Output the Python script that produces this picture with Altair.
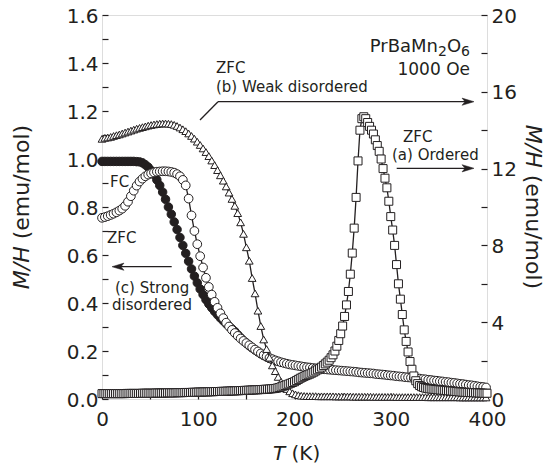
import altair as alt
import pandas as pd

# ---------------- data ----------------
# (a) Ordered, ZFC (squares, right axis)
T_sq = list(range(0, 401, 2))
sq = [0.28, 0.28, 0.28, 0.28, 0.28, 0.28, 0.28, 0.28, 0.28, 0.28, 0.28,
      0.28, 0.28, 0.29, 0.29, 0.29, 0.29, 0.29, 0.29, 0.29, 0.29, 0.30, 0.30, 0.30, 0.30, 0.30, 0.30, 0.30, 0.31, 0.31, 0.31,
      0.31, 0.31, 0.31, 0.32, 0.32, 0.32, 0.32, 0.32, 0.33, 0.33, 0.33, 0.33, 0.34, 0.34, 0.34, 0.34, 0.35, 0.35, 0.35, 0.36,
      0.36, 0.36, 0.37, 0.37, 0.37, 0.38, 0.38, 0.38, 0.39, 0.39, 0.39, 0.40, 0.40, 0.40, 0.41, 0.41, 0.42, 0.42, 0.42, 0.43,
      0.43, 0.44, 0.44, 0.45, 0.45, 0.46, 0.46, 0.47, 0.47, 0.48, 0.48, 0.49, 0.49, 0.50, 0.51, 0.51, 0.52, 0.53, 0.54, 0.55,
      0.57, 0.60, 0.63, 0.67, 0.70, 0.74, 0.78, 0.82, 0.86, 0.90, 0.96, 1.02, 1.08, 1.13, 1.18, 1.22, 1.26, 1.30, 1.35, 1.40,
      1.46, 1.52, 1.58, 1.66, 1.74, 1.83, 1.92, 2.02, 2.15, 2.30, 2.50, 2.75, 3.05, 3.40, 3.80, 4.30, 4.90, 5.60, 6.50, 7.60,
      8.90, 10.5, 12.4, 14.0, 14.6, 14.7, 14.6, 14.4, 14.2, 14.0, 13.8, 13.5, 13.2, 12.9, 12.5, 12.0, 11.5, 11.0, 10.3, 9.5,
      8.8, 8.0, 7.0, 6.0, 5.2, 4.4, 3.6, 3.0, 2.45, 1.95, 1.55, 1.20, 0.95, 0.80, 0.70, 0.64, 0.60, 0.57, 0.55, 0.53,
      0.52, 0.51, 0.50, 0.49, 0.48, 0.47, 0.46, 0.45, 0.44, 0.43, 0.42, 0.41, 0.40, 0.39, 0.38, 0.37, 0.36, 0.35, 0.35, 0.34,
      0.34, 0.33, 0.33, 0.32, 0.32, 0.31, 0.31, 0.30, 0.30, 0.30]

# (b) Weak disordered, ZFC (triangles, right axis)
T_tri = list(range(0, 400, 3))
tri = [13.55, 13.6, 13.62, 13.65, 13.7, 13.74, 13.78, 13.83, 13.88, 13.93,
       13.98, 14.03, 14.08, 14.12, 14.16, 14.2, 14.24, 14.27, 14.3, 14.32,
       14.34, 14.35, 14.35, 14.34, 14.32, 14.28, 14.22, 14.14, 14.05, 13.95,
       13.83, 13.7, 13.56, 13.4, 13.23, 13.05, 12.86, 12.65, 12.42, 12.18,
       11.92, 11.65, 11.37, 11.07, 10.75, 10.42, 10.06, 9.68, 9.2, 8.6,
       7.9, 7.2, 6.3, 5.5, 4.6, 3.8, 3.1, 2.6, 2.15, 1.75,
       1.45, 1.15, 0.9, 0.7, 0.52, 0.4, 0.3, 0.24, 0.2, 0.17,
       0.16, 0.15, 0.15, 0.15, 0.15, 0.14, 0.14, 0.14, 0.14, 0.14,
       0.14, 0.13, 0.13, 0.13, 0.13, 0.13, 0.13, 0.12, 0.12, 0.12,
       0.12, 0.12, 0.12, 0.12, 0.11, 0.11, 0.11, 0.11, 0.11, 0.11,
       0.11, 0.11, 0.1, 0.1, 0.1, 0.1, 0.1, 0.1, 0.1, 0.1,
       0.1, 0.1, 0.1, 0.09, 0.09, 0.09, 0.09, 0.09, 0.09, 0.09,
       0.09, 0.09, 0.09, 0.09, 0.08, 0.08, 0.08, 0.08, 0.08, 0.08,
       0.08, 0.08, 0.08, 0.08]

# (c) Strong disordered, ZFC (open circles, left axis)
T_zfc = list(range(0, 400, 3))
zfc = [0.755, 0.758, 0.762, 0.767, 0.772, 0.778, 0.785, 0.793, 0.805, 0.822,
       0.845, 0.868, 0.889, 0.906, 0.918, 0.928, 0.935, 0.94, 0.944, 0.947,
       0.948, 0.949, 0.949, 0.948, 0.946, 0.943, 0.937, 0.928, 0.913, 0.89,
       0.835, 0.765, 0.70, 0.645, 0.595, 0.548, 0.505, 0.467, 0.435, 0.405,
       0.38, 0.357, 0.337, 0.318, 0.302, 0.288, 0.275, 0.263, 0.252, 0.242,
       0.233, 0.224, 0.215, 0.206, 0.198, 0.19, 0.183, 0.177, 0.171, 0.166,
       0.161, 0.157, 0.153, 0.15, 0.147, 0.144, 0.142, 0.14, 0.138, 0.136,
       0.134, 0.132, 0.131, 0.129, 0.128, 0.127, 0.125, 0.124, 0.123, 0.122,
       0.121, 0.12, 0.119, 0.118, 0.117, 0.116, 0.115, 0.114, 0.113, 0.111,
       0.11, 0.109, 0.108, 0.107, 0.106, 0.104, 0.103, 0.102, 0.101, 0.099,
       0.098, 0.097, 0.095, 0.094, 0.093, 0.091, 0.09, 0.089, 0.087, 0.086,
       0.085, 0.083, 0.082, 0.08, 0.079, 0.077, 0.076, 0.074, 0.073, 0.071,
       0.07, 0.068, 0.067, 0.065, 0.063, 0.062, 0.06, 0.058, 0.057, 0.055,
       0.053, 0.051, 0.05, 0.048]

# (c) Strong disordered, FC (filled circles, left axis)
T_fc = list(range(0, 181, 3))
fc = [0.99, 0.99, 0.99, 0.99, 0.99, 0.99, 0.99, 0.99, 0.99, 0.99,
      0.99, 0.99, 0.989, 0.988, 0.984, 0.976, 0.966, 0.952, 0.935, 0.913,
      0.89, 0.862, 0.832, 0.80, 0.77, 0.738, 0.706, 0.673, 0.64, 0.607,
      0.574, 0.542, 0.512, 0.484, 0.458, 0.435, 0.414, 0.396, 0.38, 0.365,
      0.351, 0.338, 0.326, 0.314, 0.303, 0.292, 0.281, 0.268, 0.255, 0.243,
      0.232, 0.222, 0.213, 0.204, 0.196, 0.188, 0.181, 0.175, 0.169, 0.164,
      0.159]

left_ticks = [0.0, 0.1, 0.2, 0.3, 0.4, 0.5, 0.6, 0.7, 0.8, 0.9, 1.0, 1.1, 1.2, 1.3, 1.4, 1.5, 1.6]
right_ticks = [0, 2, 4, 6, 8, 10, 12, 14, 16, 18, 20]
x_ticks = [0, 50, 100, 150, 200, 250, 300, 350, 400]

assert len(T_sq) == len(sq)
assert len(T_tri) == len(tri)
assert len(T_zfc) == len(zfc)
assert len(T_fc) == len(fc)

df_sq = pd.DataFrame({"T": T_sq, "v": sq})
df_tri = pd.DataFrame({"T": T_tri, "v": tri})
df_zfc = pd.DataFrame({"T": T_zfc, "v": zfc})
df_fc = pd.DataFrame({"T": T_fc, "v": fc})
ONE = pd.DataFrame({"k": [0]})

FONT = "DejaVu Sans"
INK = "#231f20"
LAB = 20
ANN = 15
NB = "\u00a0"

common_axis = dict(tickSize=6, offset=-6, domain=False, grid=False,
                   labelFontSize=LAB, labelFont=FONT, labelColor=INK, tickColor=INK,
                   tickWidth=1.2, title=None, labelOverlap=False, labelFlush=False)

X = alt.X("T:Q", scale=alt.Scale(domain=[0, 400], nice=False),
          axis=alt.Axis(values=x_ticks, labelExpr="datum.value % 100 == 0 ? datum.label : ''",
                        labelPadding=10, **common_axis))
YL = alt.Y("v:Q", scale=alt.Scale(domain=[0, 1.6], nice=False),
           axis=alt.Axis(values=left_ticks, orient="left",
                         labelExpr="round(datum.value*10) % 2 == 0 ? format(datum.value, '.1f') : ''",
                         labelPadding=4, labelOffset=1, **common_axis))
YR = alt.Y("v:Q", scale=alt.Scale(domain=[0, 20], nice=False),
           axis=alt.Axis(values=right_ticks, orient="right",
                         labelExpr="datum.value % 4 == 0 ? datum.label : ''",
                         labelPadding=4, labelOffset=1, **common_axis))


def line(df, y):
    return alt.Chart(df).mark_line(color=INK, strokeWidth=1.3).encode(x=X, y=y)


def pts(df, y, shape, fill, size):
    return alt.Chart(df).mark_point(shape=shape, filled=True, fill=fill, stroke=INK,
                                    strokeWidth=1, size=size, opacity=1).encode(x=X, y=y)


left = alt.layer(
    line(df_fc, YL), pts(df_fc, YL, "circle", INK, 72),
    line(df_zfc, YL), pts(df_zfc, YL, "circle", "white", 76),
)
right = alt.layer(
    line(df_tri, YR), pts(df_tri, YR, "triangle-up", "white", 60),
    line(df_sq, YR), pts(df_sq, YR, "square", "white", 64),
)


def txt(s, x, y, size=ANN, align="left", angle=0, italic=False, baseline="alphabetic"):
    return alt.Chart(ONE).mark_text(text=s, align=align, baseline=baseline, angle=angle, font=FONT,
                                    fontSize=size, fontStyle="italic" if italic else "normal",
                                    color=INK).encode(x=alt.value(x), y=alt.value(y))


def hline(x1, x2, y):
    return alt.Chart(ONE).mark_rule(color=INK, strokeWidth=1.3).encode(
        x=alt.value(x1), x2=alt.value(x2), y=alt.value(y))


def seg(x1, y1, x2, y2):
    return alt.Chart(ONE).mark_rule(color=INK, strokeWidth=1.3).encode(
        x=alt.value(x1), y=alt.value(y1), x2=alt.value(x2), y2=alt.value(y2))


def head(x, y, right=True):
    shape = "M1,0L-1,-0.6L-0.5,0L-1,0.6Z" if right else "M-1,0L1,-0.6L0.5,0L1,0.6Z"
    return alt.Chart(ONE).mark_point(shape=shape, filled=True, fill=INK, stroke=INK, strokeWidth=0.5,
                                     size=144, opacity=1).encode(x=alt.value(x), y=alt.value(y))


# formula PrBaMn2O6 built from pieces (right-aligned at x=368)
F_MAIN, F_SUB = 18, 14
w6 = 0.636 * F_SUB
wO = 0.787 * F_MAIN
formula = [
    txt("6", 368, 41, size=F_SUB, align="right"),
    txt("O", 368 - w6, 37, size=F_MAIN, align="right"),
    txt("2", 368 - w6 - wO, 41, size=F_SUB, align="right"),
    txt("PrBaMn", 368 - 2 * w6 - wO, 37, size=F_MAIN, align="right"),
]

TS = 20     # x title size
YS = 22     # y title size
GAP_X = 0.318 * TS
GAP_Y = 0.318 * YS

annots = formula + [
    txt("1000" + NB + "Oe", 368, 60, size=17, align="right"),
    txt("ZFC", 114, 58),
    txt("(b) Weak disordered", 114, 77),
    seg(98, 105, 116, 86.7), hline(116, 366, 86.7), head(366, 86.7, True),
    txt("ZFC", 301, 127),
    txt("(a) Ordered", 290, 145),
    hline(294.7, 366, 153.3), head(366, 153.3, True),
    txt("FC", 8, 172),
    txt("ZFC", 5, 228),
    hline(16, 69.7, 251.7), head(16, 251.7, False),
    txt("(c) Strong", 13, 278),
    txt("disordered", 10, 295),
    # axis titles with italic variable names
    txt("T", 183.2, 444.5, size=TS, align="right", italic=True),
    txt("(K)", 183.2 + GAP_X, 444.5, size=TS, align="left"),
    txt("M/H", -80, 231.3, size=YS, align="right", angle=270, italic=True, baseline="middle"),
    txt("(emu/mol)", -80, 231.3 - GAP_Y, size=YS, align="left", angle=270, baseline="middle"),
    txt("M/H", 431, 152.7, size=YS, align="right", angle=90, italic=True, baseline="middle"),
    txt("(emu/mol)", 431, 152.7 + GAP_Y, size=YS, align="left", angle=90, baseline="middle"),
]

chart = alt.layer(left, right, *annots).resolve_scale(y="independent").properties(
    width=385, height=384,
    autosize=alt.AutoSizeParams(type="none"),
    padding={"left": 94, "top": 7, "right": 60, "bottom": 64},
).configure_view(stroke=INK, strokeWidth=1.3).configure(background="white")

chart.save("out.html", embed_options={"renderer": "svg", "actions": False})
